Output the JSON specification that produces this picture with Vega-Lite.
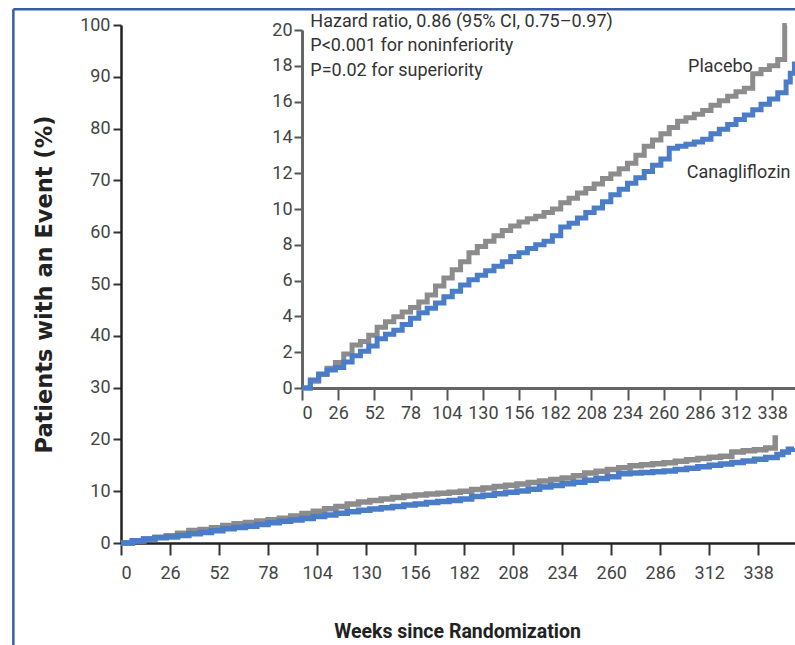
{
  "$schema": "https://vega.github.io/schema/vega-lite/v6.json",
  "width": 674,
  "height": 518,
  "autosize": {"type": "none"},
  "padding": {"left": 121, "top": 25, "right": 0, "bottom": 102},
  "background": "white",
  "config": {"view": {"stroke": null}, "axis": {"grid": false}},
  "datasets": {
    "km": [
      {"group": "Placebo", "week": 0, "pct": 0},
      {"group": "Placebo", "week": 6, "pct": 0.38},
      {"group": "Placebo", "week": 12, "pct": 0.75},
      {"group": "Placebo", "week": 18, "pct": 1.1},
      {"group": "Placebo", "week": 24, "pct": 1.42},
      {"group": "Placebo", "week": 30, "pct": 1.9},
      {"group": "Placebo", "week": 36, "pct": 2.4},
      {"group": "Placebo", "week": 42, "pct": 2.6},
      {"group": "Placebo", "week": 48, "pct": 2.95},
      {"group": "Placebo", "week": 54, "pct": 3.4},
      {"group": "Placebo", "week": 60, "pct": 3.7},
      {"group": "Placebo", "week": 66, "pct": 3.98},
      {"group": "Placebo", "week": 72, "pct": 4.25},
      {"group": "Placebo", "week": 78, "pct": 4.5},
      {"group": "Placebo", "week": 84, "pct": 4.8},
      {"group": "Placebo", "week": 90, "pct": 5.2},
      {"group": "Placebo", "week": 96, "pct": 5.7},
      {"group": "Placebo", "week": 102, "pct": 6.15},
      {"group": "Placebo", "week": 108, "pct": 6.6},
      {"group": "Placebo", "week": 114, "pct": 7.05},
      {"group": "Placebo", "week": 120, "pct": 7.55},
      {"group": "Placebo", "week": 126, "pct": 7.9},
      {"group": "Placebo", "week": 132, "pct": 8.2},
      {"group": "Placebo", "week": 138, "pct": 8.5},
      {"group": "Placebo", "week": 144, "pct": 8.8},
      {"group": "Placebo", "week": 150, "pct": 9.05},
      {"group": "Placebo", "week": 156, "pct": 9.28},
      {"group": "Placebo", "week": 162, "pct": 9.45},
      {"group": "Placebo", "week": 168, "pct": 9.6},
      {"group": "Placebo", "week": 174, "pct": 9.8},
      {"group": "Placebo", "week": 180, "pct": 10.0},
      {"group": "Placebo", "week": 186, "pct": 10.35},
      {"group": "Placebo", "week": 192, "pct": 10.6},
      {"group": "Placebo", "week": 198, "pct": 10.9},
      {"group": "Placebo", "week": 204, "pct": 11.15},
      {"group": "Placebo", "week": 210, "pct": 11.4},
      {"group": "Placebo", "week": 216, "pct": 11.7},
      {"group": "Placebo", "week": 222, "pct": 11.95},
      {"group": "Placebo", "week": 228, "pct": 12.25},
      {"group": "Placebo", "week": 234, "pct": 12.55},
      {"group": "Placebo", "week": 240, "pct": 13.0},
      {"group": "Placebo", "week": 246, "pct": 13.5},
      {"group": "Placebo", "week": 252, "pct": 13.85},
      {"group": "Placebo", "week": 258, "pct": 14.2},
      {"group": "Placebo", "week": 264, "pct": 14.55},
      {"group": "Placebo", "week": 270, "pct": 14.9},
      {"group": "Placebo", "week": 276, "pct": 15.1},
      {"group": "Placebo", "week": 282, "pct": 15.3},
      {"group": "Placebo", "week": 288, "pct": 15.5},
      {"group": "Placebo", "week": 294, "pct": 15.8},
      {"group": "Placebo", "week": 300, "pct": 16.05},
      {"group": "Placebo", "week": 306, "pct": 16.3},
      {"group": "Placebo", "week": 312, "pct": 16.55},
      {"group": "Placebo", "week": 318, "pct": 16.75},
      {"group": "Placebo", "week": 324, "pct": 17.55},
      {"group": "Placebo", "week": 330, "pct": 17.8},
      {"group": "Placebo", "week": 336, "pct": 18.0},
      {"group": "Placebo", "week": 342, "pct": 18.35},
      {"group": "Placebo", "week": 347, "pct": 20.25},
      {"group": "Placebo", "week": 348.5, "pct": 20.25},
      {"group": "Canagliflozin", "week": 0, "pct": 0},
      {"group": "Canagliflozin", "week": 6, "pct": 0.45},
      {"group": "Canagliflozin", "week": 12, "pct": 0.78},
      {"group": "Canagliflozin", "week": 18, "pct": 1.0},
      {"group": "Canagliflozin", "week": 24, "pct": 1.15},
      {"group": "Canagliflozin", "week": 30, "pct": 1.45},
      {"group": "Canagliflozin", "week": 36, "pct": 1.8},
      {"group": "Canagliflozin", "week": 42, "pct": 2.05},
      {"group": "Canagliflozin", "week": 48, "pct": 2.35},
      {"group": "Canagliflozin", "week": 54, "pct": 2.75},
      {"group": "Canagliflozin", "week": 60, "pct": 3.0},
      {"group": "Canagliflozin", "week": 66, "pct": 3.22},
      {"group": "Canagliflozin", "week": 72, "pct": 3.55},
      {"group": "Canagliflozin", "week": 78, "pct": 3.9},
      {"group": "Canagliflozin", "week": 84, "pct": 4.2},
      {"group": "Canagliflozin", "week": 90, "pct": 4.45},
      {"group": "Canagliflozin", "week": 96, "pct": 4.75},
      {"group": "Canagliflozin", "week": 102, "pct": 5.1},
      {"group": "Canagliflozin", "week": 108, "pct": 5.4},
      {"group": "Canagliflozin", "week": 114, "pct": 5.75},
      {"group": "Canagliflozin", "week": 120, "pct": 6.05},
      {"group": "Canagliflozin", "week": 126, "pct": 6.3},
      {"group": "Canagliflozin", "week": 132, "pct": 6.55},
      {"group": "Canagliflozin", "week": 138, "pct": 6.8},
      {"group": "Canagliflozin", "week": 144, "pct": 7.05},
      {"group": "Canagliflozin", "week": 150, "pct": 7.35},
      {"group": "Canagliflozin", "week": 156, "pct": 7.55},
      {"group": "Canagliflozin", "week": 162, "pct": 7.8},
      {"group": "Canagliflozin", "week": 168, "pct": 8.0},
      {"group": "Canagliflozin", "week": 174, "pct": 8.2},
      {"group": "Canagliflozin", "week": 180, "pct": 8.5},
      {"group": "Canagliflozin", "week": 186, "pct": 9.0},
      {"group": "Canagliflozin", "week": 192, "pct": 9.2},
      {"group": "Canagliflozin", "week": 198, "pct": 9.5},
      {"group": "Canagliflozin", "week": 204, "pct": 9.8},
      {"group": "Canagliflozin", "week": 210, "pct": 10.05},
      {"group": "Canagliflozin", "week": 216, "pct": 10.4},
      {"group": "Canagliflozin", "week": 222, "pct": 10.8},
      {"group": "Canagliflozin", "week": 228, "pct": 11.1},
      {"group": "Canagliflozin", "week": 234, "pct": 11.44},
      {"group": "Canagliflozin", "week": 240, "pct": 11.75},
      {"group": "Canagliflozin", "week": 246, "pct": 12.1},
      {"group": "Canagliflozin", "week": 252, "pct": 12.45},
      {"group": "Canagliflozin", "week": 258, "pct": 12.8},
      {"group": "Canagliflozin", "week": 264, "pct": 13.39},
      {"group": "Canagliflozin", "week": 270, "pct": 13.5},
      {"group": "Canagliflozin", "week": 276, "pct": 13.62},
      {"group": "Canagliflozin", "week": 282, "pct": 13.75},
      {"group": "Canagliflozin", "week": 288, "pct": 13.9},
      {"group": "Canagliflozin", "week": 294, "pct": 14.2},
      {"group": "Canagliflozin", "week": 300, "pct": 14.45},
      {"group": "Canagliflozin", "week": 306, "pct": 14.72},
      {"group": "Canagliflozin", "week": 312, "pct": 15.0},
      {"group": "Canagliflozin", "week": 318, "pct": 15.25},
      {"group": "Canagliflozin", "week": 324, "pct": 15.55},
      {"group": "Canagliflozin", "week": 330, "pct": 15.85},
      {"group": "Canagliflozin", "week": 336, "pct": 16.15},
      {"group": "Canagliflozin", "week": 342, "pct": 16.5},
      {"group": "Canagliflozin", "week": 348, "pct": 17.1},
      {"group": "Canagliflozin", "week": 351, "pct": 17.58},
      {"group": "Canagliflozin", "week": 354, "pct": 18.1},
      {"group": "Canagliflozin", "week": 357, "pct": 18.3}
    ],
    "notes": [
      {"label": "Hazard ratio, 0.86 (95% CI, 0.75–0.97)", "week": 6, "pct": 20.18},
      {"label": "P<0.001 for noninferiority", "week": 6, "pct": 18.85},
      {"label": "P=0.02 for superiority", "week": 6, "pct": 17.43},
      {"label": "Placebo", "week": 277.5, "pct": 17.67},
      {"label": "Canagliflozin", "week": 276.6, "pct": 11.73}
    ],
    "frameV": [{"week": -57.1, "pct": -20, "pct2": 103.03}],
    "frameH": [{"week": -57.1, "week2": 360, "pct": 103.03}]
  },
  "layer": [
    {
      "data": {"name": "km"},
      "encoding": {
        "x": {
          "field": "week", "type": "quantitative",
          "scale": {"domain": [0, 357.5], "nice": false, "zero": false},
          "axis": {
            "orient": "bottom",
            "values": [0, 26, 52, 78, 104, 130, 156, 182, 208, 234, 260, 286, 312, 338],
            "title": "Weeks since Randomization",
            "domainColor": "#222", "domainWidth": 2.5,
            "tickColor": "#333", "tickWidth": 2, "tickSize": 12,
            "labelFont": "Roboto", "labelFontSize": 18, "labelColor": "#444", "labelPadding": 9,
            "titleFont": "Roboto", "titleFontSize": 19.5, "titleFontWeight": "bold", "titleColor": "#222",
            "titleX": 336, "titleY": 94, "titleBaseline": "alphabetic", "titleAlign": "center"
          }
        },
        "y": {
          "field": "pct", "type": "quantitative",
          "scale": {"domain": [0, 100], "nice": false},
          "axis": {
            "orient": "left",
            "values": [0, 10, 20, 30, 40, 50, 60, 70, 80, 90, 100],
            "title": "Patients with an Event (%)",
            "domainColor": "#222", "domainWidth": 2.5,
            "tickColor": "#333", "tickWidth": 2, "tickSize": 8,
            "labelFont": "Roboto", "labelFontSize": 18, "labelColor": "#444", "labelPadding": 3,
            "titleFont": "DejaVu Sans", "titleFontSize": 22.5, "titleFontWeight": "bold", "titleColor": "#222",
            "titleX": -77, "titleY": 259, "titleAngle": 270, "titleBaseline": "middle", "titleAlign": "center"
          }
        }
      },
      "layer": [
        {
          "transform": [{"filter": "datum.group === 'Placebo'"}],
          "mark": {"type": "line", "interpolate": "step-after", "color": "#8c8c8c", "strokeWidth": 5.5}
        },
        {
          "transform": [{"filter": "datum.group === 'Canagliflozin'"}],
          "mark": {"type": "line", "interpolate": "step-after", "color": "#4a7cc7", "strokeWidth": 5.5}
        },
        {
          "data": {"name": "frameV"},
          "mark": {"type": "rule", "color": "#3a5ba8", "strokeWidth": 2.5},
          "encoding": {"y2": {"field": "pct2"}}
        },
        {
          "data": {"name": "frameH"},
          "mark": {"type": "rule", "color": "#3a5ba8", "strokeWidth": 2.5},
          "encoding": {"x2": {"field": "week2"}}
        }
      ]
    },
    {
      "data": {"name": "km"},
      "encoding": {
        "x": {
          "field": "week", "type": "quantitative",
          "scale": {"domain": [0, 354.4], "range": [181, 674], "nice": false, "zero": false},
          "axis": {
            "orient": "bottom", "offset": -155,
            "values": [0, 26, 52, 78, 104, 130, 156, 182, 208, 234, 260, 286, 312, 338],
            "title": null,
            "domainColor": "#666", "domainWidth": 3,
            "tickColor": "#555", "tickWidth": 2, "tickSize": 12,
            "labelFont": "Roboto", "labelFontSize": 18, "labelColor": "#444", "labelPadding": 4
          }
        },
        "y": {
          "field": "pct", "type": "quantitative",
          "scale": {"domain": [0, 20], "range": [363, 5], "nice": false},
          "axis": {
            "orient": "left", "offset": -181,
            "values": [0, 2, 4, 6, 8, 10, 12, 14, 16, 18, 20],
            "title": null,
            "domainColor": "#666", "domainWidth": 3,
            "tickColor": "#555", "tickWidth": 2, "tickSize": 8,
            "labelFont": "Roboto", "labelFontSize": 18, "labelColor": "#444", "labelPadding": 2
          }
        }
      },
      "layer": [
        {
          "transform": [{"filter": "datum.group === 'Placebo'"}],
          "mark": {"type": "line", "interpolate": "step-after", "color": "#8c8c8c", "strokeWidth": 5}
        },
        {
          "transform": [{"filter": "datum.group === 'Canagliflozin'"}],
          "mark": {"type": "line", "interpolate": "step-after", "color": "#4a7cc7", "strokeWidth": 5}
        },
        {
          "data": {"name": "notes"},
          "mark": {"type": "text", "align": "left", "baseline": "alphabetic", "font": "Roboto", "fontSize": 18, "color": "#333"},
          "encoding": {"text": {"field": "label"}}
        }
      ]
    }
  ],
  "resolve": {
    "scale": {"x": "independent", "y": "independent"},
    "axis": {"x": "independent", "y": "independent"}
  }
}
